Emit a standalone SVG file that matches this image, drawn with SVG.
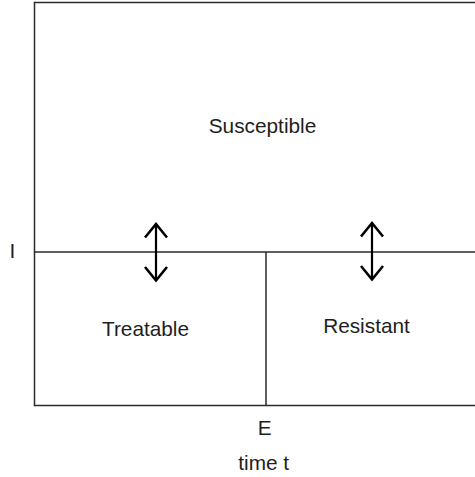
<svg xmlns="http://www.w3.org/2000/svg" width="475" height="477" viewBox="0 0 475 477">
<style>
.frame{fill:none;stroke:#2b2b2b;stroke-width:1.5}
.lbl{font-family:"Liberation Sans",Arial,sans-serif;font-size:20.8px;fill:#1e1e1e;text-anchor:middle}
.arr{fill:none;stroke:#000;stroke-width:2.2;stroke-linecap:butt;stroke-linejoin:miter}
.head{fill:none;stroke:#000;stroke-width:2.6;stroke-linejoin:miter;stroke-miterlimit:10}
</style>
<rect width="475" height="477" fill="#fff"/>
<g id="susceptible">
<path class="frame" d="M480 2.5 H34.5 V252 H480"/>
<text class="lbl" x="262.5" y="133">Susceptible</text>
</g>
<g id="treatable">
<path class="frame" d="M34.5 252 V405.5 H266 V252"/>
<text class="lbl" x="145.5" y="336">Treatable</text>
</g>
<g id="resistant">
<path class="frame" d="M266 405.5 H480"/>
<text class="lbl" x="366.5" y="333">Resistant</text>
</g>
<g id="axis-labels">
<text class="lbl" x="12.3" y="257.5">I</text>
<text class="lbl" x="264.7" y="435">E</text>
<text class="lbl" x="263.7" y="470">time t</text>
</g>
<g id="connectors">
<path class="arr" d="M156 224.5 V280"/>
<path class="head" d="M145 237.5 L156 224 L167 237.5"/>
<path class="head" d="M145 267 L156 280.5 L167 267"/>
<path class="arr" d="M372 223.5 V279"/>
<path class="head" d="M361 236.5 L372 223 L383 236.5"/>
<path class="head" d="M361 266 L372 279.5 L383 266"/>
</g>
</svg>
